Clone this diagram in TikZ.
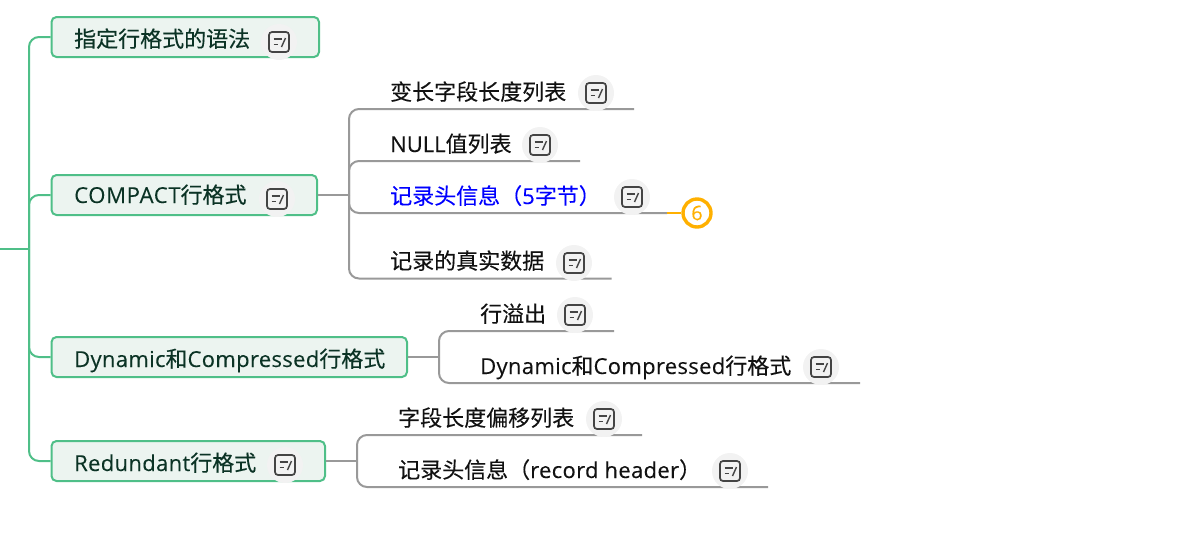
\documentclass[tikz,border=0pt]{standalone}
\usepackage{fontspec}
\setmainfont{Noto Sans CJK SC}[FakeBold=0.2]
\newfontfamily\latinfont{Open Sans}[FakeBold=0.1,LetterSpace=1.5]
\newfontfamily\latinwide{Open Sans}[FakeBold=0.1,LetterSpace=3.2]
\newcommand{\lat}[1]{{\latinfont #1}}
\newcommand{\latw}[1]{{\latinwide #1}}
\definecolor{gline}{HTML}{4FBF88}
\definecolor{gfill}{HTML}{ECF4F0}
\definecolor{gtext}{HTML}{0B3325}
\definecolor{leafline}{HTML}{999999}
\definecolor{leaftext}{HTML}{111111}
\definecolor{iconbg}{HTML}{F2F2F2}
\definecolor{iconfg}{HTML}{444444}
\definecolor{badge}{HTML}{FFB000}
\newcommand{\noteicon}[3]{%
  \node[iconcirc] (#1) at (#2,#3) {};
  \node[iconsq] (#1s) at (#1) {};
  \draw[iconstroke] ([shift={(-5.5,-3)}]#1.center) -- ([shift={(2.5,-3)}]#1.center);
  \draw[iconstroke] ([shift={(-5.5,2.5)}]#1.center) -- ([shift={(-1,2.5)}]#1.center);
  \draw[iconstroke] ([shift={(6.5,-4)}]#1.center) -- ([shift={(2.5,5)}]#1.center);
}
\tikzset{
  x=1pt,y=-1pt,
  topic/.style={draw=gline,fill=gfill,line width=2pt,rounded corners=5pt,minimum height=40pt,inner sep=0pt,anchor=west},
  ttext/.style={anchor=base west,inner sep=0pt,text=gtext,font=\fontsize{22pt}{24pt}\selectfont},
  ltext/.style={anchor=base west,inner sep=0pt,text=leaftext,font=\fontsize{22pt}{24pt}\selectfont},
  gconn/.style={draw=gline,line width=2pt,rounded corners=10pt},
  lconn/.style={draw=leafline,line width=2pt,rounded corners=10pt},
  iconcirc/.style={circle,fill=iconbg,minimum size=36pt,inner sep=0pt},
  iconsq/.style={draw=iconfg,line width=1.7pt,rounded corners=3pt,minimum size=20pt,inner sep=0pt},
  iconstroke/.style={draw=iconfg,line width=1.4pt},
}
\begin{document}
\begin{tikzpicture}
\useasboundingbox (0,0) rectangle (1180,550);
% topics
\node[topic,minimum width=267.5pt] (n1) at (50.5,37) {};
\node[topic,minimum width=265.5pt] (n2) at (50.5,195) {};
\node[topic,minimum width=355.5pt] (n3) at (50.5,357) {};
\node[topic,minimum width=273.5pt] (n4) at (50.5,461) {};
\node[ttext] (t1) at (74,47) {指定行格式的语法};
\node[ttext] (t2) at (74,203) {\latw{COMPACT}行格式};
\node[ttext] (t3) at (74,367) {\lat{Dynamic}和\lat{Compressed}行格式};
\node[ttext] (t4) at (74,471) {\lat{Redundant}行格式};
% trunk
\coordinate (root) at (0,248.5);
\coordinate (trunk) at (29,248.5);
\draw[gconn] (root) -- (trunk);
\draw[gconn] (trunk) |- (n1.west);
\draw[gconn] (trunk) |- (n2.west);
\draw[gconn] (trunk) |- (n3.west);
\draw[gconn] (trunk) |- (n4.west);
% branch coordinates
\coordinate (b2) at (349,195);
\coordinate (b3) at (439,357);
\coordinate (b4) at (357,461);
\coordinate (e21) at (634,109);
\coordinate (e22) at (580,161);
\coordinate (e23) at (667,213);
\coordinate (e24) at (611.5,278.5);
\coordinate (e31) at (614,331);
\coordinate (e32) at (860,383);
\coordinate (e41) at (642,435);
\coordinate (e42) at (768,487);
\draw[lconn] (n2.east) -- (b2);
\draw[lconn] (b2) |- (e21);
\draw[lconn] (b2) |- (e22);
\draw[lconn] (b2) |- (e23);
\draw[lconn] (b2) |- (e24);
\draw[lconn] (n3.east) -- (b3);
\draw[lconn] (b3) |- (e31);
\draw[lconn] (b3) |- (e32);
\draw[lconn] (n4.east) -- (b4);
\draw[lconn] (b4) |- (e41);
\draw[lconn] (b4) |- (e42);
% leaf texts
\node[ltext] (l21) at (390,100) {变长字段长度列表};
\node[ltext] (l22) at (390,152) {{\latinfont\addfontfeature{LetterSpace=0}NULL}值列表};
\node[ltext,text=blue] (l23) at (390,204) {记录头信息（\lat{5}字节）};
\node[ltext] (l24) at (390,269) {记录的真实数据};
\node[ltext] (l31) at (480,322) {行溢出};
\node[ltext] (l32) at (480,374) {\lat{Dynamic}和\lat{Compressed}行格式};
\node[ltext] (l41) at (398,426) {字段长度偏移列表};
\node[ltext] (l42) at (398,478) {记录头信息（\lat{record header}）};
% badge
\node[circle,draw=badge,line width=3.4pt,fill=white,minimum size=28pt,inner sep=0pt,text=badge,font=\fontsize{20pt}{22pt}\selectfont] (badge6) at (697,213) {\lat{6}};
\draw[draw=badge,line width=2pt] (e23) -- (badge6.west);
% icons
\noteicon{i1}{279}{42}
\noteicon{i2}{277}{199}
\noteicon{i3}{285}{465}
\noteicon{i21}{596}{93}
\noteicon{i22}{540}{145}
\noteicon{i23}{632}{197}
\noteicon{i24}{574}{263}
\noteicon{i31}{575}{315}
\noteicon{i32}{821}{367}
\noteicon{i41}{604}{419}
\noteicon{i42}{730}{471}
\end{tikzpicture}
\end{document}
